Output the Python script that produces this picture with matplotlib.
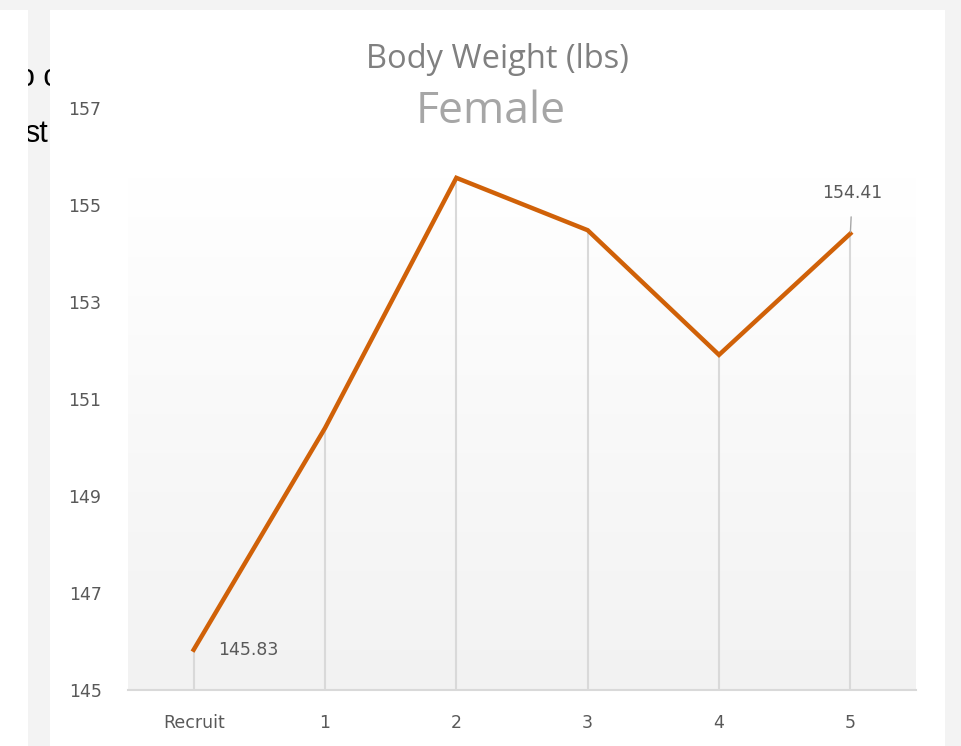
import numpy as np
import matplotlib
matplotlib.use('Agg')
import matplotlib.pyplot as plt
from matplotlib.patches import Rectangle
from matplotlib.colors import LinearSegmentedColormap

# data
categories = ['Recruit', '1', '2', '3', '4', '5']
weights = [145.83, 150.40, 155.56, 154.48, 151.91, 154.41]
y_ticks = [145, 147, 149, 151, 153, 155, 157]

W, H = 961, 746
fig = plt.figure(figsize=(W / 100, H / 100), dpi=100, facecolor='#f3f3f3')

# screenshot surroundings: document text behind, white page on the left, chart card
for txt, xl, yb in [('o c', 18, 86), ('st', 24, 142)]:
    fig.text(xl / W, 1 - yb / H, txt, fontsize=22, family='Liberation Sans',
             color='black', va='baseline', ha='left', zorder=0.5)
fig.patches.append(Rectangle((0, 0), 28 / W, 736 / H, transform=fig.transFigure,
                             facecolor='white', edgecolor='none', zorder=1))
fig.patches.append(Rectangle((50 / W, 0), 895 / W, 736 / H, transform=fig.transFigure,
                             facecolor='white', edgecolor='none', zorder=1))

ax = fig.add_axes([128 / W, 1 - 690 / H, 788 / W, (690 - 108) / H])
ax.set_zorder(2)
ax.set_facecolor('none')
x = np.arange(len(categories))

# gradient plot background
cmap = LinearSegmentedColormap.from_list('bg', ['#f2f2f2', '#ffffff'])
grad = np.linspace(0, 1, 256).reshape(-1, 1)
ax.imshow(grad, cmap=cmap, aspect='auto', origin='lower',
          extent=(-0.5, len(categories) - 0.5, y_ticks[0], max(weights)), zorder=0)

ax.vlines(x, y_ticks[0], weights, color='#d9d9d9', lw=1.5, zorder=1)
ax.plot(x, weights, color='#d06108', lw=3.2, solid_joinstyle='miter', zorder=3)

ax.set_xlim(-0.5, len(categories) - 0.5)
ax.set_ylim(y_ticks[0], y_ticks[-1])
ax.set_xticks(x, categories)
ax.set_yticks(y_ticks)
ax.tick_params(length=0, labelsize=12.5, labelcolor='#595959')
ax.tick_params(axis='y', pad=19)
ax.tick_params(axis='x', pad=17)
for s in ['top', 'right', 'left']:
    ax.spines[s].set_visible(False)
ax.spines['bottom'].set_color('#d9d9d9')
ax.spines['bottom'].set_linewidth(1.5)

# data labels
ax.annotate(f'{weights[0]:.2f}', (x[0], weights[0]), xytext=(24, 0),
            textcoords='offset pixels', ha='left', va='center',
            fontsize=12.5, color='#595959')
ax.annotate(f'{weights[-1]:.2f}', (x[-1], weights[-1]), xytext=(2, 41),
            textcoords='offset pixels', ha='center', va='center',
            fontsize=12.5, color='#595959',
            arrowprops=dict(arrowstyle='-', color='#a6a6a6', lw=1, shrinkA=9, shrinkB=1))

fig.text(497.5 / W, 1 - 60 / H, 'Body Weight (lbs)', ha='center', va='center',
         fontsize=23.5, color='#808080', family='Open Sans', zorder=3)
fig.text(491 / W, 1 - 112 / H, 'Female', ha='center', va='center',
         fontsize=32, color='#a6a6a6', family='Open Sans', zorder=3)

fig.savefig('out.png', dpi=100, facecolor=fig.get_facecolor())
